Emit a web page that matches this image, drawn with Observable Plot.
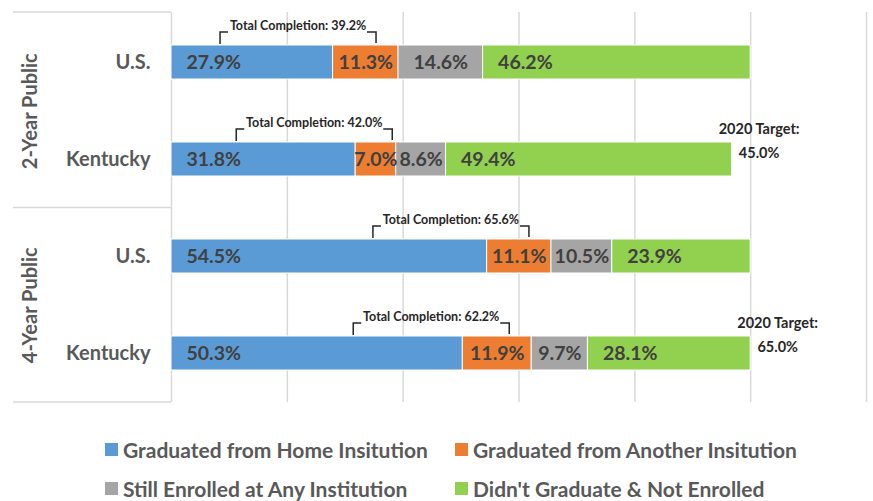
<!DOCTYPE html>
<html>
<head>
<meta charset="utf-8">
<script src="https://cdn.jsdelivr.net/npm/d3@7"></script>
<script src="https://cdn.jsdelivr.net/npm/@observablehq/plot@0.6"></script>
<style>
  body { margin: 0; background: #fff; font-family: Lato, sans-serif; }
  #chart { position: relative; width: 873px; height: 501px; overflow: hidden; }
  #chart svg { display: block; }
  .legend { position: absolute; left: 105px; top: 437px; display: grid;
    grid-template-columns: 350px 350px; grid-auto-rows: 25px; row-gap: 14px; }
  .legend .item { display: flex; align-items: center; font-size: 21px; font-weight: bold; color: #595959; white-space: nowrap; line-height: 25px; }
  .legend .sw { width: 13px; height: 13px; margin-right: 5px; flex: none; }
</style>
</head>
<body>
<div id="chart"></div>
<script>
// ---- data ----
const groups = ["2-Year Public", "2-Year Public", "4-Year Public", "4-Year Public"];
const regions = ["U.S.", "Kentucky", "U.S.", "Kentucky"];
const series = [
  "Graduated from Home Insitution",
  "Graduated from Another Insitution",
  "Still Enrolled at Any Institution",
  "Didn't Graduate & Not Enrolled"
];
const colors = ["#5B9BD5", "#ED7D31", "#A5A5A5", "#92D050"];
const gradHome = [27.9, 31.8, 54.5, 50.3];
const gradOther = [11.3, 7.0, 11.1, 11.9];
const stillEnrolled = [14.6, 8.6, 10.5, 9.7];
const notEnrolled = [46.2, 49.4, 23.9, 28.1];
const totalCompletion = [39.2, 42.0, 65.6, 62.2];
const targets = [null, 45.0, null, 65.0];
const xTicks = [0, 20, 40, 60, 80, 100, 120];

// ---- derived tables ----
const keys = groups.map((g, i) => g + "|" + regions[i]);
const seriesValues = [gradHome, gradOther, stillEnrolled, notEnrolled];
const data = seriesValues.flatMap((vals, s) =>
  vals.map((v, i) => ({key: keys[i], series: series[s], value: v})));
const rows = keys.map((k, i) => ({
  key: k,
  total: d3.sum(seriesValues, v => v[i]),
  completion: totalCompletion[i],
  target: targets[i]
}));
const groupLabels = Array.from(new Set(groups)).map(g => ({
  group: g, first: keys[groups.indexOf(g)]
}));

const W = 873, H = 425, mTop = 12, mBottom = 23, mLeft = 171, mRight = 7;
const rowStep = (H - mTop - mBottom) / keys.length;
const fmt = v => v.toFixed(1) + "%";
const big = d => d.value >= 12;

function decorations(index, scales, values, dims) {
  const x = scales.x, y = scales.y;
  let bw = y.bandwidth;
  bw = typeof bw === "function" ? bw() : bw;
  const g = d3.create("svg:g");
  // category axis separators
  const top = dims.marginTop, bottom = dims.height - dims.marginBottom;
  const mid = (y(keys[1]) + bw + y(keys[2])) / 2;
  for (const yy of [top, mid, bottom]) {
    g.append("line").attr("x1", dims.marginLeft - 158).attr("x2", dims.marginLeft)
      .attr("y1", yy).attr("y2", yy).attr("stroke", "#d9d9d9").attr("stroke-width", 1.5);
  }
  // total completion callouts
  for (const r of rows) {
    const barTop = y(r.key);
    const cx = x(r.completion) - 100;
    const ly = barTop - 13;
    g.append("path")
      .attr("d", `M${cx - 78},${barTop - 1}V${ly}H${cx - 70}M${cx + 69},${ly}H${cx + 78}V${barTop - 2}`)
      .attr("fill", "none").attr("stroke", "#262626").attr("stroke-width", 1.5);
    g.append("text").attr("x", cx).attr("y", barTop - 15)
      .attr("text-anchor", "middle").attr("font-size", 12.5).attr("font-weight", "bold")
      .attr("fill", "#262626").text("Total Completion: " + fmt(r.completion));
  }
  return g.node();
}

const plot = Plot.plot({
  width: W, height: H,
  marginTop: mTop, marginBottom: mBottom, marginLeft: mLeft, marginRight: mRight,
  style: {fontFamily: "Lato, sans-serif", background: "#fff"},
  x: {domain: [0, 120], axis: null},
  y: {domain: keys, paddingInner: 0.65, paddingOuter: 0.325, label: null},
  color: {domain: series, range: colors},
  marks: [
    Plot.gridX(xTicks, {stroke: "#d9d9d9", strokeOpacity: 1, strokeWidth: 1.5}),
    Plot.barX(data, Plot.stackX({x: "value", y: "key", fill: "series", stroke: "white", strokeWidth: 1})),
    Plot.text(data, Plot.stackX1({x: "value", y: "key", z: "series",
      text: d => big(d) ? fmt(d.value) : null,
      textAnchor: "start", dx: 15, fill: "#404040", fontSize: 19.5, fontWeight: "bold"})),
    Plot.text(data, Plot.stackX({x: "value", y: "key", z: "series",
      text: d => big(d) ? null : fmt(d.value),
      textAnchor: "middle", fill: "#404040", fontSize: 19.5, fontWeight: "bold"})),
    Plot.axisY({tickSize: 0, tickPadding: 21, tickFormat: k => k.split("|")[1],
      fontSize: 20, fontWeight: "bold", color: "#595959", label: null}),
    Plot.text(groupLabels, {y: "first", text: "group", frameAnchor: "left", dx: -141, dy: rowStep / 2,
      rotate: -90, textAnchor: "middle", fontSize: 20, fontWeight: "bold", fill: "#595959"}),
    Plot.text(rows.filter(r => r.target != null), {x: "total", y: "key", dx: 27, dy: -30,
      text: () => "2020 Target:", textAnchor: "middle", fontSize: 14.5, fontWeight: "bold", fill: "#262626"}),
    Plot.text(rows.filter(r => r.target != null), {x: "total", y: "key", dx: 27, dy: -6,
      text: r => fmt(r.target), textAnchor: "middle", fontSize: 14.5, fontWeight: "bold", fill: "#262626"}),
    decorations
  ]
});

const chart = document.getElementById("chart");
chart.appendChild(plot);
plot.querySelectorAll('g[aria-label="y-axis tick label"] text').forEach(t => t.setAttribute("font-weight", "bold"));

const legend = document.createElement("div");
legend.className = "legend";
series.forEach((s, i) => {
  const item = document.createElement("div");
  item.className = "item";
  const sw = document.createElement("span");
  sw.className = "sw";
  sw.style.background = colors[i];
  item.appendChild(sw);
  item.appendChild(document.createTextNode(s));
  legend.appendChild(item);
});
chart.appendChild(legend);
</script>
</body>
</html>
